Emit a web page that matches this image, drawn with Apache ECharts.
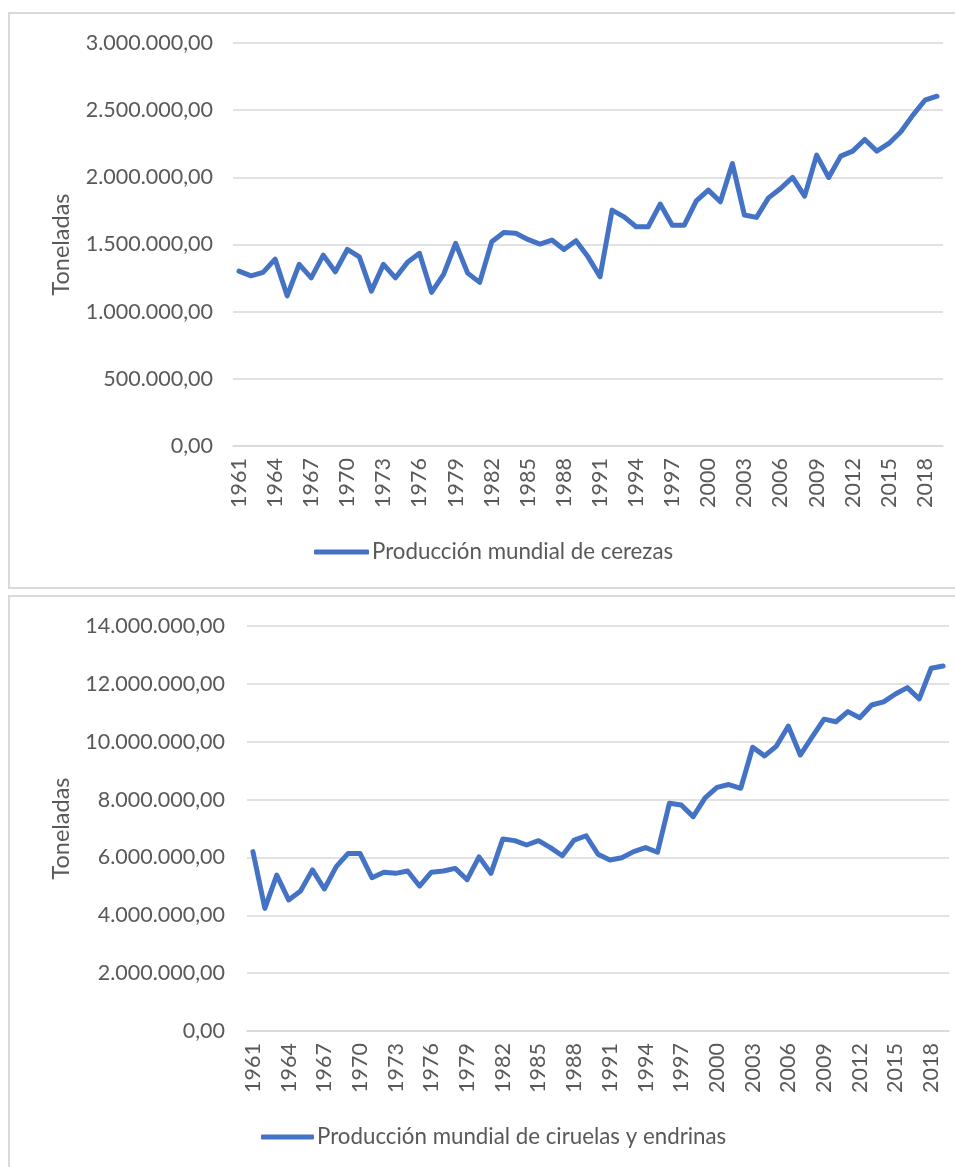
<!DOCTYPE html>
<html>
<head>
<meta charset="utf-8">
<script src="https://cdn.jsdelivr.net/npm/echarts@6/dist/echarts.min.js"></script>
<style>
  html, body { margin: 0; padding: 0; background: #ffffff; overflow: hidden; width: 955px; height: 1167px; }
  .panel { position: absolute; border: 2px solid #d9d9d9; box-sizing: border-box; }
  .chart { position: absolute; left: 0; width: 955px; }
</style>
</head>
<body>
<div class="panel" style="left:8px; top:12px; width:970px; height:577px;"></div>
<div class="panel" style="left:8px; top:595px; width:970px; height:620px;"></div>
<div id="c1" class="chart" style="top:0px; height:592px;"></div>
<div id="c2" class="chart" style="top:592px; height:575px;"></div>
<script>
// ---- data ----
const years = [];
for (let y = 1961; y <= 2019; y++) years.push(String(y));

const seriesName1 = 'Producción mundial de cerezas';
const seriesName2 = 'Producción mundial de ciruelas y endrinas';
const yAxisTitle = 'Toneladas';

const cerezas = [
  1302000, 1267000, 1292000, 1391000, 1118000, 1352000, 1252000, 1421000, 1297000, 1463000,
  1408000, 1153000, 1352000, 1252000, 1367000, 1434000, 1144000, 1278000, 1508000, 1287000,
  1218000, 1520000, 1590000, 1583000, 1538000, 1503000, 1533000, 1463000, 1528000, 1408000,
  1260000, 1756000, 1706000, 1632000, 1632000, 1801000, 1644000, 1644000, 1825000, 1905000,
  1818000, 2103000, 1719000, 1702000, 1847000, 1917000, 1999000, 1860000, 2165000, 1999000,
  2158000, 2195000, 2282000, 2195000, 2252000, 2339000, 2463000, 2574000, 2604000
];

const ciruelas = [
  6200000, 4240000, 5390000, 4530000, 4840000, 5570000, 4910000, 5680000, 6140000, 6140000,
  5300000, 5490000, 5450000, 5530000, 5010000, 5490000, 5530000, 5620000, 5230000, 6020000,
  5450000, 6640000, 6580000, 6430000, 6580000, 6340000, 6060000, 6600000, 6750000, 6110000,
  5910000, 5990000, 6200000, 6340000, 6180000, 7870000, 7810000, 7410000, 8060000, 8420000,
  8520000, 8390000, 9810000, 9510000, 9850000, 10540000, 9540000, 10170000, 10780000, 10690000,
  11040000, 10830000, 11270000, 11380000, 11650000, 11870000, 11480000, 12540000, 12620000
];

const yAxis1 = { min: 0, max: 3000000, interval: 500000 };
const yAxis2 = { min: 0, max: 14000000, interval: 2000000 };

// ---- helpers ----
const FONT = 'Lato, "Open Sans", sans-serif';
const TXT = '#595959';
const GRID = '#d9d9d9';
const LINE = '#4472C4';

function fmt(v) {
  const s = String(Math.round(v)).replace(/\B(?=(\d{3})+(?!\d))/g, '.');
  return s + ',00';
}

function makeOption(cfg) {
  return {
    animation: false,
    textStyle: { fontFamily: FONT },
    grid: { left: cfg.left, top: cfg.top, width: cfg.width, height: cfg.height, containLabel: false },
    xAxis: {
      type: 'category',
      data: years,
      boundaryGap: true,
      axisLine: { show: true, lineStyle: { color: GRID, width: 1.5 } },
      axisTick: { show: false },
      axisLabel: {
        interval: 2, rotate: 90, margin: 12,
        color: TXT, fontSize: 21.5, fontFamily: FONT
      },
      splitLine: { show: false }
    },
    yAxis: {
      type: 'value',
      min: cfg.y.min, max: cfg.y.max, interval: cfg.y.interval,
      name: yAxisTitle,
      nameLocation: 'middle',
      nameRotate: 90,
      nameGap: cfg.nameGap,
      nameTextStyle: { color: TXT, fontSize: 23.5, fontFamily: FONT },
      axisLine: { show: false },
      axisTick: { show: false },
      axisLabel: { color: TXT, fontSize: 21.5, fontFamily: FONT, margin: cfg.labelMargin, formatter: fmt },
      splitLine: { show: true, lineStyle: { color: GRID, width: 1.5 } }
    },
    legend: {
      show: true,
      left: cfg.legendLeft,
      top: cfg.legendTop,
      icon: 'roundRect',
      itemWidth: cfg.legendIconW,
      itemHeight: 5,
      itemGap: 10,
      textStyle: { color: TXT, fontSize: 22.3, fontFamily: FONT, padding: [0, 0, 0, -2] },
      data: [cfg.name]
    },
    series: [{
      name: cfg.name,
      type: 'line',
      data: cfg.data,
      symbol: 'none',
      smooth: false,
      itemStyle: { color: LINE },
      lineStyle: { color: LINE, width: 5, cap: 'round', join: 'round' }
    }]
  };
}

const chart1 = echarts.init(document.getElementById('c1'), null, { renderer: 'canvas' });
chart1.setOption(makeOption({
  left: 233, top: 43, width: 710, height: 403,
  y: yAxis1, nameGap: 160, labelMargin: 20,
  legendLeft: 309, legendTop: 536, legendIconW: 55,
  name: seriesName1, data: cerezas
}));

const chart2 = echarts.init(document.getElementById('c2'), null, { renderer: 'canvas' });
chart2.setOption(makeOption({
  left: 247, top: 34, width: 702, height: 405,
  y: yAxis2, nameGap: 174, labelMargin: 22,
  legendLeft: 256, legendTop: 529, legendIconW: 53,
  name: seriesName2, data: ciruelas
}));
</script>
</body>
</html>
